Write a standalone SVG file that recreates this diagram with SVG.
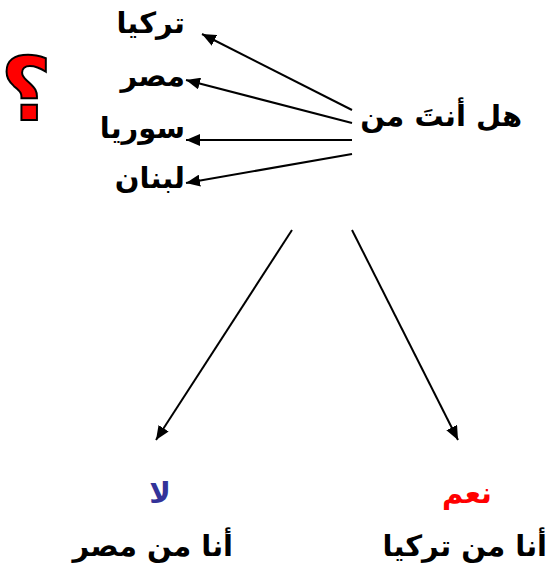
<svg xmlns="http://www.w3.org/2000/svg" width="551" height="567" viewBox="0 0 551 567">
<defs>
<marker id="ah2" viewBox="0 0 14 12" refX="14" refY="6" markerWidth="14" markerHeight="12" markerUnits="userSpaceOnUse" orient="auto">
<path d="M0,0 L14,6 L0,12 z" fill="#000"/>
</marker>
</defs>
<style>
.t{font-family:"DejaVu Sans","Liberation Sans",sans-serif;font-weight:bold;font-size:29px;fill:#000}
.c{stroke:#000;stroke-width:2;fill:none;marker-end:url(#ah2)}
</style>
<rect width="551" height="567" fill="#fff"/>
<g id="connectors">
<line class="c" x1="352" y1="110" x2="202" y2="34"/>
<line class="c" x1="352" y1="123" x2="186" y2="80"/>
<line class="c" x1="352" y1="140" x2="186" y2="140"/>
<line class="c" x1="352" y1="154" x2="186" y2="183"/>
<line class="c" x1="292" y1="230" x2="156" y2="440"/>
<line class="c" x1="352" y1="230" x2="458" y2="440"/>
</g>
<g id="qmark">
<text x="26" y="120" font-family="DejaVu Sans, sans-serif" font-weight="bold" font-size="88" text-anchor="middle" fill="#f00" stroke="#000" stroke-width="2">؟</text>
</g>
<g id="q"><text class="t" x="522" y="126" text-anchor="end">هل أنتَ من</text></g>
<g id="turkey"><text class="t" x="185" y="33" text-anchor="end">تركيا</text></g>
<g id="egypt"><text class="t" x="185" y="86" text-anchor="end">مصر</text></g>
<g id="syria"><text class="t" x="185" y="138" text-anchor="end">سوريا</text></g>
<g id="lebanon"><text class="t" x="185" y="188" text-anchor="end">لبنان</text></g>
<g id="no">
<text class="t" x="160" y="503" text-anchor="middle" style="fill:#333399">لا</text>
<text class="t" x="233" y="556" text-anchor="end">أنا من مصر</text>
</g>
<g id="yes">
<text class="t" x="467" y="503" text-anchor="middle" style="fill:#f00">نعم</text>
<text class="t" x="547" y="556" text-anchor="end">أنا من تركيا</text>
</g>
</svg>
